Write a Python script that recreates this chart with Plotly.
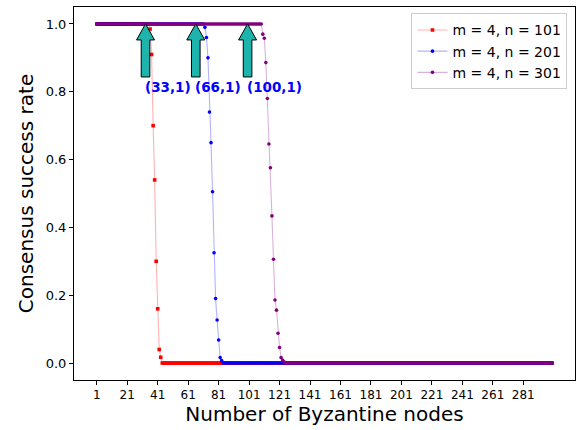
import numpy as np
import plotly.graph_objects as go

# ---- data ----
x_nodes = list(range(1, 301))

series_names = ["m = 4, n = 101", "m = 4, n = 201", "m = 4, n = 301"]
series_colors = ["red", "blue", "purple"]
series_line_colors = ["rgba(255,0,0,0.3)", "rgba(0,0,255,0.3)", "rgba(128,0,128,0.3)"]
series_symbols = ["square", "circle", "circle"]

# first x where the rate drops below 1, then the observed falling values; 0 afterwards
red_drop_start = 36
red_drop = [0.985, 0.91, 0.70, 0.54, 0.30, 0.16, 0.04, 0.017]
blue_drop_start = 72
blue_drop = [0.99, 0.96, 0.90, 0.74, 0.65, 0.505, 0.325, 0.19, 0.127, 0.068, 0.016, 0.007]
purple_drop_start = 110
purple_drop = [0.97, 0.958, 0.886, 0.78, 0.646, 0.576, 0.434, 0.306, 0.186, 0.156,
               0.088, 0.046, 0.016, 0.009, 0.004]

annot_x = [33, 66, 100]
annot_y = [1, 1, 1]
annot_text = ["(33,1)", "(66,1)", "(100,1)"]

x_ticks = list(range(1, 300, 20))
y_ticks = [0.0, 0.2, 0.4, 0.6, 0.8, 1.0]


def build(start, drop):
    ys = []
    for xv in x_nodes:
        if xv < start:
            ys.append(1.0)
        elif xv < start + len(drop):
            ys.append(drop[xv - start])
        else:
            ys.append(0.0)
    return ys


series_y = [build(red_drop_start, red_drop),
            build(blue_drop_start, blue_drop),
            build(purple_drop_start, purple_drop)]

fig = go.Figure()
for name, ys, c, lc, sym in zip(series_names, series_y, series_colors,
                                series_line_colors, series_symbols):
    fig.add_trace(go.Scatter(
        x=x_nodes, y=ys, name=name, mode="lines+markers",
        line=dict(color=lc, width=1.1),
        marker=dict(color=c, size=3.6, symbol=sym, line=dict(width=0)),
    ))

arrow_path = "M 0,0 L 9,-16 L 4.3,-16 L 4.3,-53 L -4.3,-53 L -4.3,-16 L -9,-16 Z"
for ax_, ay_, t in zip(annot_x, annot_y, annot_text):
    fig.add_shape(type="path", xref="x", yref="y",
                  xsizemode="pixel", ysizemode="pixel",
                  xanchor=ax_, yanchor=ay_, path=arrow_path,
                  fillcolor="#1cb4ac", line=dict(color="black", width=1),
                  layer="above")
    fig.add_annotation(x=ax_, y=0.814, text="<b>" + t + "</b>", showarrow=False,
                       xanchor="left", yanchor="middle", xshift=-3,
                       font=dict(family="DejaVu Sans", size=13.5, color="blue"))

fig.update_layout(
    width=576, height=430,
    margin=dict(l=74, r=1, t=7, b=50),
    paper_bgcolor="white", plot_bgcolor="white",
    font=dict(family="DejaVu Sans", color="black"),
    showlegend=True,
    legend=dict(x=0.985, y=0.983, xanchor="right", yanchor="top",
                bgcolor="white", bordercolor="#cccccc", borderwidth=1,
                font=dict(size=14), tracegroupgap=0, itemwidth=30),
)
fig.update_xaxes(
    range=[1 - 14.95, 300 + 14.95], tickvals=x_ticks,
    ticktext=[str(v) for v in x_ticks],
    showline=True, linecolor="black", linewidth=1, mirror=True,
    ticks="outside", ticklen=4, tickcolor="black", showgrid=False, zeroline=False,
    tickfont=dict(size=12),
    title=dict(text="Number of Byzantine nodes", font=dict(size=20), standoff=4),
)
fig.update_yaxes(
    range=[-0.05, 1.05], tickvals=y_ticks,
    ticktext=["%.1f" % v for v in y_ticks],
    showline=True, linecolor="black", linewidth=1, mirror=True,
    ticks="outside", ticklen=4, tickcolor="black", showgrid=False, zeroline=False,
    tickfont=dict(size=13),
    title=dict(text="Consensus success rate", font=dict(size=20), standoff=6),
)

fig.write_html("out.html")
